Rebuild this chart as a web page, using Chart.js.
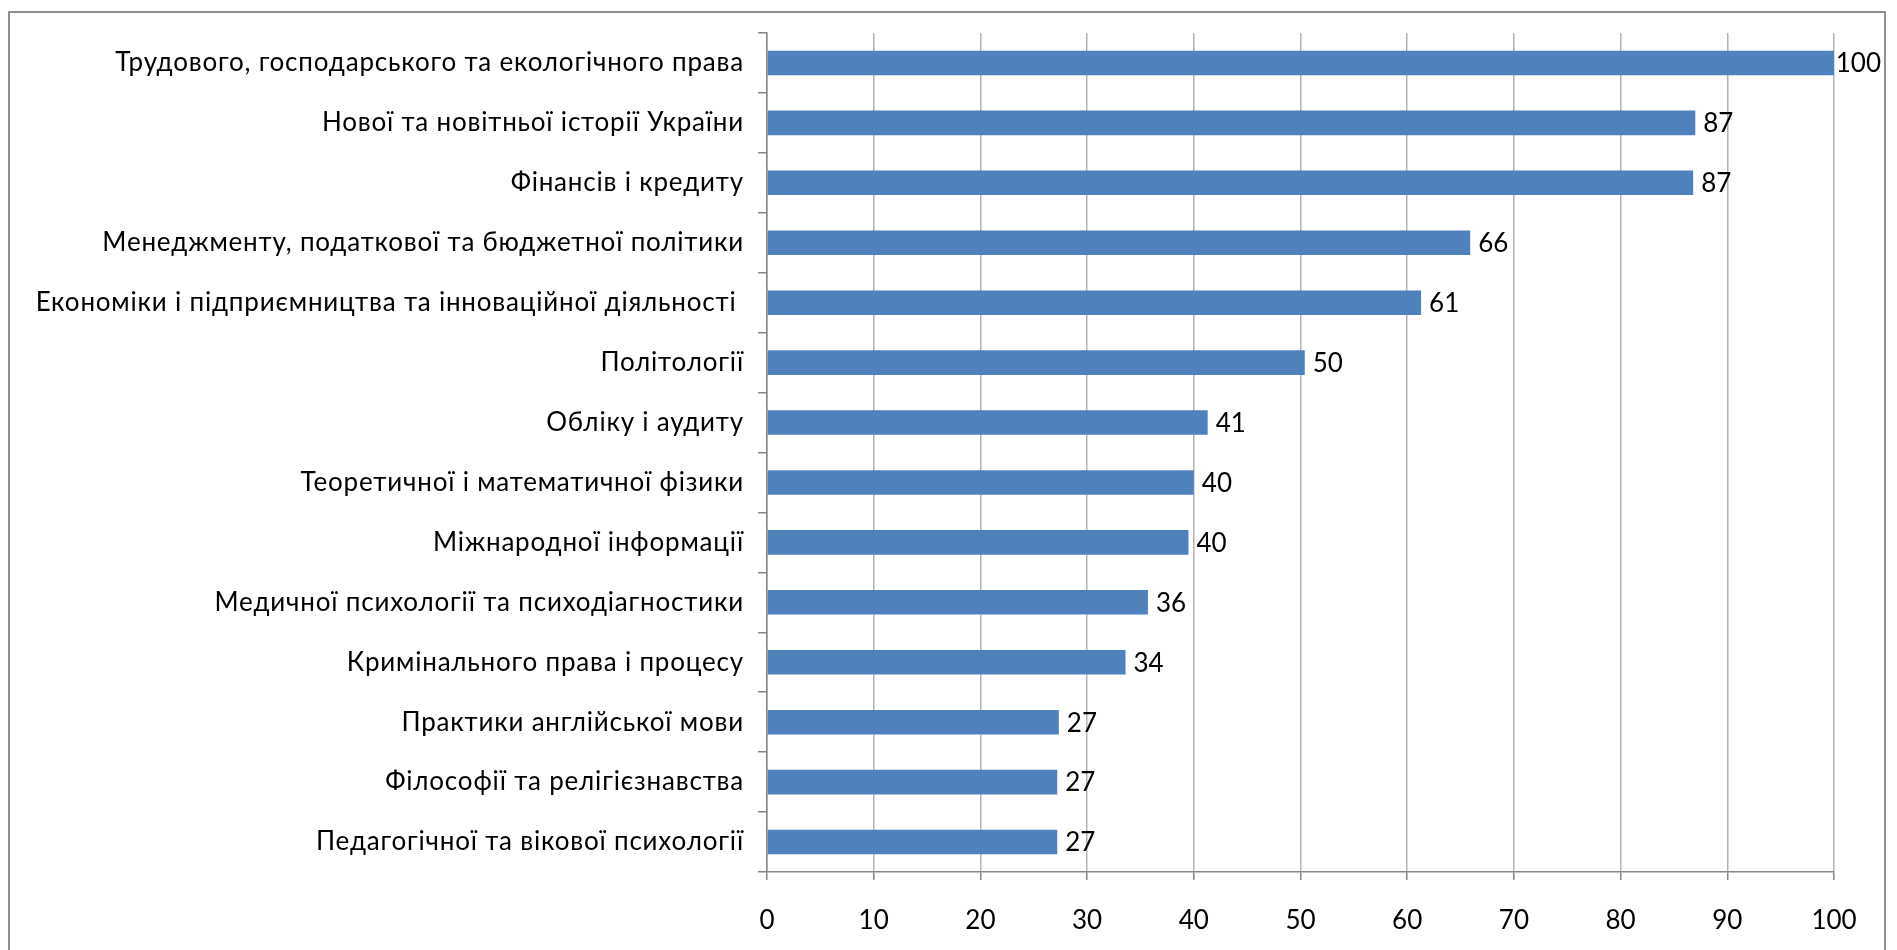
<!DOCTYPE html>
<html>
<head>
<meta charset="utf-8">
<script src="https://cdn.jsdelivr.net/npm/chart.js@4"></script>
<style>
  html, body { margin: 0; padding: 0; background: #fff; }
  #wrap { width: 1897px; height: 950px; }
</style>
</head>
<body>
<div id="wrap"><canvas id="chart" width="1897" height="950"></canvas></div>
<script>
'use strict';

// ===== DATA =====
const departments = [
  'Трудового, господарського та екологічного права',
  'Нової та новітньої історії України',
  'Фінансів і кредиту',
  'Менеджменту, податкової та бюджетної політики',
  'Економіки і підприємництва та інноваційної діяльності ',
  'Політології',
  'Обліку і аудиту',
  'Теоретичної і математичної фізики',
  'Міжнародної інформації',
  'Медичної психології та психодіагностики',
  'Кримінального права і процесу',
  'Практики англійської мови',
  'Філософії та релігієзнавства',
  'Педагогічної та вікової психології'
];
const scores = [100, 87.0, 86.8, 65.9, 61.3, 50.4, 41.3, 40.0, 39.5, 35.7, 33.6, 27.35, 27.2, 27.2];
const xTicks = [0, 10, 20, 30, 40, 50, 60, 70, 80, 90, 100];

const FONT = 'Lato';
const AXIS_GREY = '#868686';
const GRID_GREY = '#b3b3b3';

// White background + outer chart frame
const framePlugin = {
  id: 'frame',
  beforeDraw(chart) {
    const ctx = chart.ctx;
    ctx.save();
    ctx.fillStyle = '#fff';
    ctx.fillRect(0, 0, chart.width, chart.height);
    ctx.restore();
  },
  afterDraw(chart) {
    const ctx = chart.ctx;
    ctx.save();
    ctx.strokeStyle = '#8f8f8f';
    ctx.lineWidth = 2;
    ctx.strokeRect(9, 12, 1876, 1000);
    ctx.restore();
  }
};

// Slightly looser letters for the category names (closer to the original look)
const spacedLabels = {
  id: 'spacedLabels',
  afterLayout(chart) {
    const s = chart.scales.y;
    if (!s || s._spaced) return;
    const orig = s.drawLabels.bind(s);
    s.drawLabels = function (area) {
      this.ctx.save();
      this.ctx.letterSpacing = '0.8px';
      orig(area);
      this.ctx.restore();
    };
    s._spaced = true;
  }
};

// Value labels at bar ends
const valueLabels = {
  id: 'valueLabels',
  afterDatasetsDraw(chart) {
    const ctx = chart.ctx;
    const meta = chart.getDatasetMeta(0);
    ctx.save();
    ctx.font = `26px ${FONT}`;
    ctx.fillStyle = '#000';
    ctx.textBaseline = 'middle';
    ctx.textAlign = 'left';
    meta.data.forEach((bar, i) => {
      const txt = String(Math.round(scores[i]));
      const w = ctx.measureText(txt).width;
      let x = bar.x + 8;
      if (x + w > 1881) x = 1881 - w;
      ctx.fillText(txt, x, bar.y + 1);
    });
    ctx.restore();
  }
};

new Chart(document.getElementById('chart'), {
  type: 'bar',
  data: {
    labels: departments,
    datasets: [{
      data: scores,
      backgroundColor: '#4F81BD',
      borderWidth: 0,
      barPercentage: 0.41,
      categoryPercentage: 1
    }]
  },
  options: {
    indexAxis: 'y',
    responsive: false,
    animation: false,
    devicePixelRatio: 1,
    layout: { padding: { top: 33, right: 63, bottom: 0, left: 0 } },
    plugins: {
      legend: { display: false },
      tooltip: { enabled: false }
    },
    scales: {
      x: {
        min: 0,
        max: 100,
        afterFit(scale) { scale.height = 78; },
        afterBuildTicks(scale) { scale.ticks = xTicks.map(v => ({ value: v })); },
        grid: { color: GRID_GREY, lineWidth: 1.5, tickLength: 8, tickColor: AXIS_GREY },
        border: { display: true, color: AXIS_GREY, width: 1.5 },
        ticks: { color: '#000', font: { family: FONT, size: 26 }, padding: 25 }
      },
      y: {
        afterFit(scale) { scale.width = 767; },
        grid: { display: true, drawOnChartArea: false, offset: true, tickLength: 9, color: AXIS_GREY, lineWidth: 1.5 },
        border: { display: true, color: AXIS_GREY, width: 1.5 },
        ticks: { color: '#000', font: { family: FONT, size: 26 }, padding: 14, autoSkip: false }
      }
    }
  },
  plugins: [framePlugin, spacedLabels, valueLabels]
});
</script>
</body>
</html>
